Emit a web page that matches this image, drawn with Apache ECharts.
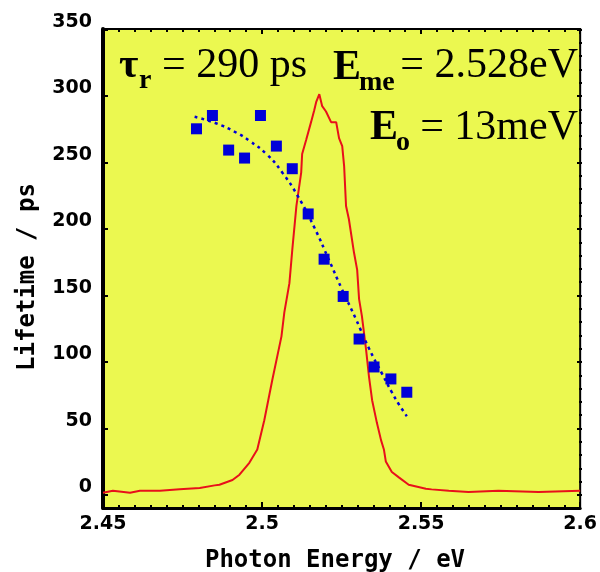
<!DOCTYPE html>
<html>
<head>
<meta charset="utf-8">
<script src="https://cdn.jsdelivr.net/npm/echarts/dist/echarts.min.js"></script>
<style>
html,body{margin:0;padding:0;background:#fff;}
#chart{width:600px;height:572px;}
</style>
</head>
<body>
<div id="chart"></div>
<script>
// ---- data ----
const xTickLabels = ['2.45', '2.5', '2.55', '2.6'];
const yTickLabels = ['0', '50', '100', '150', '200', '250', '300', '350'];

// measured lifetimes (blue squares)
const lifetimeEnergy = [2.4794, 2.4844, 2.4895, 2.4945, 2.4995, 2.5045, 2.5095, 2.5145, 2.5195, 2.5255, 2.5305, 2.5352, 2.5405, 2.5455];
const lifetimeValue  = [275, 285, 259, 253, 285, 262, 245, 211, 177, 149, 117, 96, 87, 77];

// fitted curve (blue dotted)
const fitEnergy = [2.4788, 2.4857, 2.4920, 2.4960, 2.5014, 2.5064, 2.5111, 2.5164, 2.5211, 2.5250, 2.5295, 2.5336, 2.5377, 2.5408, 2.5430, 2.5455];
const fitValue  = [284, 279, 272, 266, 256, 242, 225, 201, 176, 155, 132, 110, 91, 77, 68, 59];

// emission spectrum (red)
const specEnergy = [2.4500, 2.4531, 2.4585, 2.4616, 2.4679, 2.4741, 2.4804, 2.4851, 2.4866, 2.4907, 2.4929, 2.4960, 2.4985, 2.5007, 2.5032, 2.5061, 2.5070, 2.5086, 2.5095, 2.5108, 2.5123, 2.5126, 2.5139, 2.5154, 2.5164, 2.5170, 2.5180, 2.5189, 2.5201, 2.5217, 2.5233, 2.5242, 2.5252, 2.5258, 2.5264, 2.5273, 2.5289, 2.5299, 2.5305, 2.5314, 2.5327, 2.5336, 2.5346, 2.5361, 2.5374, 2.5383, 2.5389, 2.5408, 2.5430, 2.5461, 2.5515, 2.5533, 2.5587, 2.5649, 2.5743, 2.5869, 2.6000];
const specValue  = [1.5, 3, 1.5, 3, 3, 4, 5, 7, 7.5, 11, 15, 24, 34, 56, 86, 119, 137, 159, 184, 217, 242, 256, 267, 280, 289, 295, 301, 292, 288, 280, 280, 268, 262, 247, 217, 207, 182, 169, 147, 134, 109, 89, 71, 54, 41, 34, 25, 17, 13, 7.5, 4.5, 4, 3, 2, 3, 2, 3];

const zip = (a, b) => a.map((v, i) => [v, b[i]]);

const chart = echarts.init(document.getElementById('chart'), null, {renderer: 'canvas'});
const BLACK = '#000';
const BLUE = '#0000d8';
const tickFont = {fontFamily: '"DejaVu Sans"', fontWeight: 'bold', fontSize: 19, color: BLACK};

chart.setOption({
  animation: false,
  backgroundColor: '#ffffff',
  grid: [
    {left: 103, top: 29, width: 479, height: 479, show: true, backgroundColor: 'rgb(235,248,80)', borderColor: BLACK, borderWidth: 2},
    {left: 103, top: 29.5, width: 479, height: 465.5, show: false}
  ],
  xAxis: [
    {
      gridIndex: 0, type: 'value', min: 2.45, max: 2.6, interval: 0.05, position: 'bottom',
      axisLine: {show: true, onZero: false, lineStyle: {color: BLACK, width: 3}},
      axisTick: {show: true, inside: true, length: 6, lineStyle: {color: BLACK, width: 2}},
      minorTick: {show: true, splitNumber: 10, length: 3, lineStyle: {color: BLACK, width: 2}},
      axisLabel: Object.assign({margin: 7, formatter: v => xTickLabels[Math.round((v - 2.45) / 0.05)]}, tickFont),
      splitLine: {show: false}
    },
    {
      gridIndex: 0, type: 'value', min: 2.45, max: 2.6, interval: 0.05, position: 'top',
      axisLine: {show: true, onZero: false, lineStyle: {color: BLACK, width: 2}},
      axisTick: {show: true, inside: true, length: 5, lineStyle: {color: BLACK, width: 2}},
      minorTick: {show: true, splitNumber: 10, length: 3, lineStyle: {color: BLACK, width: 2}},
      axisLabel: {show: false},
      splitLine: {show: false}
    },
    {gridIndex: 1, type: 'value', min: 2.45, max: 2.6, show: false}
  ],
  yAxis: [
    {
      gridIndex: 0, type: 'value', min: -10, max: 350, position: 'left',
      axisLine: {show: true, onZero: false, lineStyle: {color: BLACK, width: 4}},
      axisTick: {show: false}, axisLabel: {show: false}, splitLine: {show: false}
    },
    {
      gridIndex: 1, type: 'value', min: 0, max: 350, interval: 50, position: 'left',
      axisLine: {show: false},
      axisTick: {show: true, inside: true, length: 5, lineStyle: {color: BLACK, width: 2}},
      axisLabel: Object.assign({margin: 11, verticalAlign: 'bottom', lineHeight: 15, formatter: v => yTickLabels[Math.round(v / 50)]}, tickFont),
      splitLine: {show: false}
    },
    {
      gridIndex: 1, type: 'value', min: 0, max: 350, interval: 50, position: 'right',
      axisLine: {show: false},
      axisTick: {show: true, inside: true, length: 5, lineStyle: {color: BLACK, width: 2}},
      minorTick: {show: true, splitNumber: 5, length: 3, lineStyle: {color: BLACK, width: 2}},
      axisLabel: {show: false},
      splitLine: {show: false}
    }
  ],
  series: [
    {
      type: 'line', xAxisIndex: 0, yAxisIndex: 0, data: zip(specEnergy, specValue),
      showSymbol: false, symbol: 'none', lineStyle: {color: '#e8101a', width: 2}, z: 2
    },
    {
      type: 'line', xAxisIndex: 0, yAxisIndex: 0, data: zip(fitEnergy, fitValue),
      showSymbol: false, symbol: 'none', smooth: true,
      lineStyle: {color: BLUE, width: 2.5, type: [3, 4]}, z: 3
    },
    {
      type: 'scatter', xAxisIndex: 0, yAxisIndex: 0, data: zip(lifetimeEnergy, lifetimeValue),
      symbol: 'rect', symbolSize: 11, itemStyle: {color: BLUE, opacity: 1}, z: 4
    }
  ],
  graphic: [
    {type: 'text', x: 28, y: 277, rotation: Math.PI / 2,
      style: {text: 'Lifetime / ps', font: 'bold 24px "DejaVu Sans Mono"', fill: BLACK, align: 'center', verticalAlign: 'middle'}},
    {type: 'text', x: 335, y: 561,
      style: {text: 'Photon Energy / eV', font: 'bold 24px "DejaVu Sans Mono"', fill: BLACK, align: 'center', verticalAlign: 'middle'}},
    // annotation line 1
    {type: 'text', x: 119, y: 66, style: {text: 'τ', font: 'bold 42px "Liberation Serif"', fill: BLACK, align: 'left', verticalAlign: 'middle'}},
    {type: 'text', x: 139, y: 81, style: {text: 'r', font: 'bold 28px "Liberation Serif"', fill: BLACK, align: 'left', verticalAlign: 'middle'}},
    {type: 'text', x: 162, y: 66, style: {text: '= 290 ps', font: '42px "Liberation Serif"', fill: BLACK, align: 'left', verticalAlign: 'middle'}},
    {type: 'text', x: 333, y: 68, style: {text: 'E', font: 'bold 42px "Liberation Serif"', fill: BLACK, align: 'left', verticalAlign: 'middle'}},
    {type: 'text', x: 359, y: 83, style: {text: 'me', font: 'bold 28px "Liberation Serif"', fill: BLACK, align: 'left', verticalAlign: 'middle'}},
    {type: 'text', x: 578, y: 66, style: {text: '= 2.528eV', font: '42px "Liberation Serif"', fill: BLACK, align: 'right', verticalAlign: 'middle'}},
    // annotation line 2
    {type: 'text', x: 370, y: 128, style: {text: 'E', font: 'bold 42px "Liberation Serif"', fill: BLACK, align: 'left', verticalAlign: 'middle'}},
    {type: 'text', x: 396, y: 143, style: {text: 'o', font: 'bold 28px "Liberation Serif"', fill: BLACK, align: 'left', verticalAlign: 'middle'}},
    {type: 'text', x: 578, y: 128, style: {text: '= 13meV', font: '42px "Liberation Serif"', fill: BLACK, align: 'right', verticalAlign: 'middle'}}
  ]
});
</script>
</body>
</html>
